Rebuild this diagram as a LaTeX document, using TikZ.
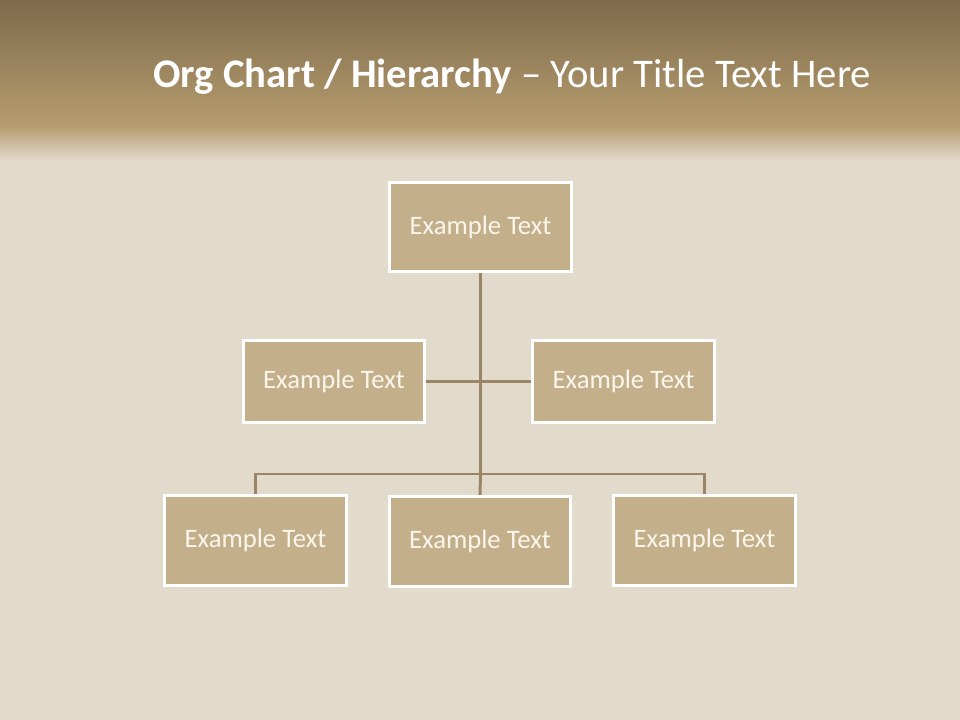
\documentclass[tikz,border=0pt]{standalone}
\usepackage{fontspec}
\setmainfont{Carlito}
\usetikzlibrary{backgrounds}
\definecolor{bannertop}{HTML}{7E6B4C}
\definecolor{bannerbot}{HTML}{B69C6E}
\definecolor{bgcol}{HTML}{E2DACB}
\definecolor{boxfill}{HTML}{C4AF8B}
\definecolor{linecol}{HTML}{9A8666}
\definecolor{txtcol}{HTML}{FAF6EC}
\tikzset{
  orgbox/.style={draw=white, line width=2.2pt, fill=boxfill, minimum width=136pt, minimum height=67pt,
    inner sep=0pt, text=txtcol, font=\fontsize{20}{24}\selectfont},
  midbox/.style={orgbox, minimum height=61pt},
  conn/.style={draw=linecol, line width=2.2pt}
}
\begin{document}
\begin{tikzpicture}[x=0.75pt,y=-0.75pt]
\useasboundingbox (0,0) rectangle (960,720);
\node[anchor=base west, text=white, inner sep=0pt, font=\fontsize{30.5}{34}\selectfont] (title) at (153,88)
  {\textbf{Org Chart / Hierarchy} – Your Title Text Here};
\coordinate (hub) at (480.5,474);
\node[orgbox] (top) at (480.5,227) {Example Text};
\node[midbox] (ml) at (334,381.5) {Example Text};
\node[midbox] (mr) at (623.5,381.5) {Example Text};
\node[orgbox] (bl) at (255.5,540.5) {Example Text};
\node[orgbox] (bm) at (480,541.5) {Example Text};
\node[orgbox] (br) at (704.5,540.5) {Example Text};
\begin{scope}[on background layer]
\fill[bgcol] (0,0) rectangle (960,720);
\shade[top color=bannertop, bottom color=bannerbot] (0,0) rectangle (960,126);
\shade[top color=bannerbot, bottom color=bgcol] (0,126) rectangle (960,160);
\draw[conn] (top.south) -- (hub);
\draw[conn] (ml.east) -- (mr.west);
\draw[conn] (bl.north) |- (hub) -| (br.north);
\draw[conn] (hub) -- (bm.north);
\end{scope}
\end{tikzpicture}
\end{document}
